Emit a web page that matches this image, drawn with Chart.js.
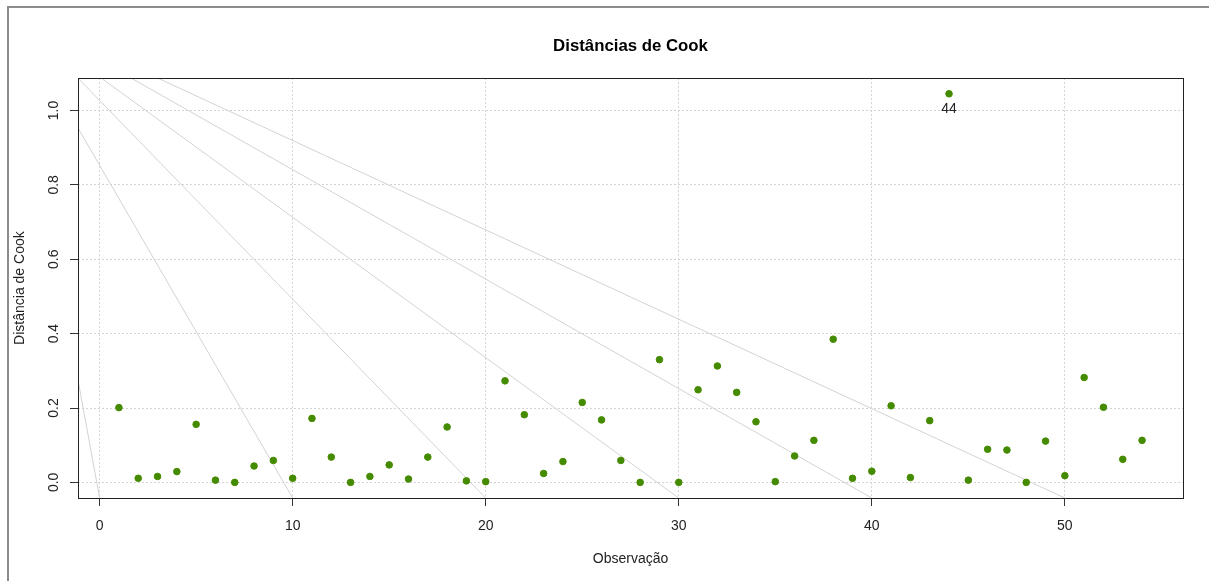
<!DOCTYPE html>
<html>
<head>
<meta charset="utf-8">
<title>Distâncias de Cook</title>
<script src="https://cdn.jsdelivr.net/npm/chart.js@4.4.0/dist/chart.umd.min.js"></script>
<style>
  html, body { margin: 0; padding: 0; background: #fff; }
  #wrap { position: relative; width: 1209px; height: 581px; overflow: hidden; }
  #frame { position: absolute; left: 7px; top: 6px; width: 1300px; height: 700px;
           border-left: 2px solid #8c8c8c; border-top: 2px solid #8c8c8c; }
  canvas { position: absolute; left: 0; top: 0; }
</style>
</head>
<body>
<div id="wrap">
  <div id="frame"></div>
  <canvas id="cookChart" width="1209" height="581"></canvas>
</div>
<script>
/* ======================================================================
Data
====================================================================== */
const observacoes = Array.from({ length: 54 }, (_, i) => i + 1);
const distCook = [
  0.201, 0.011, 0.016, 0.029, 0.156, 0.006, 0.000, 0.044, 0.059, 0.011,
  0.172, 0.068, 0.000, 0.016, 0.047, 0.009, 0.068, 0.149, 0.004, 0.002,
  0.273, 0.182, 0.024, 0.056, 0.215, 0.168, 0.059, 0.000, 0.330, 0.000,
  0.249, 0.313, 0.242, 0.163, 0.002, 0.071, 0.113, 0.385, 0.011, 0.030,
  0.206, 0.013, 0.166, 1.045, 0.006, 0.089, 0.087, 0.000, 0.111, 0.018,
  0.282, 0.202, 0.062, 0.113
];
const pontosRotulados = [44];

const xTicks = [0, 10, 20, 30, 40, 50];
const yTicks = [0, 0.2, 0.4, 0.6, 0.8, 1.0];
const xRange = [-1.12, 56.12];
const yRange = [-0.042, 1.087];

// gray slanted lines: start and end points
const refX0 = [-1.12, -1.12, -1.12, 0.09, 1.64, 3.02];
const refY0 = [0.275, 0.953, 1.087, 1.087, 1.087, 1.087];
const refX1 = [0, 10, 20, 30, 40, 50];
const refY1 = [-0.042, -0.042, -0.042, -0.042, -0.042, -0.042];

/* ======================================================================
Plugins
====================================================================== */
const plotBox = {
  id: 'plotBox',
  afterDatasetsDraw(chart) {
    const { ctx, chartArea: a } = chart;
    ctx.save();
    ctx.strokeStyle = '#222';
    ctx.lineWidth = 1;
    ctx.strokeRect(Math.round(a.left) + 0.5, Math.round(a.top) + 0.5,
      Math.round(a.width), Math.round(a.height));

    // point labels
    const meta = chart.getDatasetMeta(0);
    ctx.fillStyle = '#222';
    ctx.font = '14px "Liberation Sans", Arial, sans-serif';
    ctx.textAlign = 'center';
    ctx.textBaseline = 'middle';
    pontosRotulados.forEach(obs => {
      const el = meta.data[observacoes.indexOf(obs)];
      ctx.fillText(String(obs), el.x, el.y + 15);
    });
    ctx.restore();
  }
};

/* ======================================================================
Chart
====================================================================== */
Chart.defaults.font.family = '"Liberation Sans", Arial, Helvetica, sans-serif';
Chart.defaults.color = '#222';

const datasets = [{
  data: observacoes.map((x, i) => ({ x: x, y: distCook[i] })),
  pointRadius: 3.3,
  pointHoverRadius: 3.3,
  pointBorderWidth: 1,
  backgroundColor: '#458B00',
  borderColor: '#458B00'
}];
refX0.forEach((x0, i) => {
  datasets.push({
    data: [{ x: x0, y: refY0[i] }, { x: refX1[i], y: refY1[i] }],
    showLine: true,
    borderColor: '#d3d3d3',
    borderWidth: 1,
    pointRadius: 0,
    pointHoverRadius: 0
  });
});

const gridOpts = {
  color: '#d3d3d3',
  lineWidth: 1,
  tickLength: 8,
  tickColor: '#333',
  tickBorderDash: []
};

const cookChart = new Chart(document.getElementById('cookChart'), {
  type: 'scatter',
  data: { datasets: datasets },
  options: {
    responsive: false,
    devicePixelRatio: 1,
    animation: false,
    events: [],
    layout: { padding: { left: 0, right: 26, top: 0, bottom: 0 } },
    plugins: {
      legend: { display: false },
      tooltip: { enabled: false },
      title: {
        display: true,
        text: 'Distâncias de Cook',
        fullSize: false,
        color: '#000',
        font: { size: 16.8, weight: 'bold' },
        padding: { top: 36, bottom: 22 }
      }
    },
    scales: {
      x: {
        type: 'linear',
        min: xRange[0],
        max: xRange[1],
        afterBuildTicks: s => { s.ticks = xTicks.map(v => ({ value: v })); },
        afterFit: s => { s.height = 83; },
        grid: gridOpts,
        border: { display: false, dash: [2, 2] },
        ticks: { font: { size: 14 }, padding: 12, maxRotation: 0, autoSkip: false },
        title: {
          display: true, text: 'Observação', font: { size: 14 },
          padding: { top: 0, bottom: 13 }
        }
      },
      y: {
        type: 'linear',
        min: yRange[0],
        max: yRange[1],
        afterBuildTicks: s => { s.ticks = yTicks.map(v => ({ value: v })); },
        afterFit: s => { s.width = 78; },
        grid: gridOpts,
        border: { display: false, dash: [2, 2] },
        ticks: {
          font: { size: 14 }, padding: 6.3, minRotation: 90, maxRotation: 90,
          crossAlign: 'center', autoSkip: false,
          callback: v => v.toFixed(1)
        },
        title: {
          display: true, text: 'Distância de Cook', font: { size: 14 },
          padding: { top: 11.6, bottom: 0 }
        }
      }
    }
  },
  plugins: [plotBox]
});
</script>
</body>
</html>
